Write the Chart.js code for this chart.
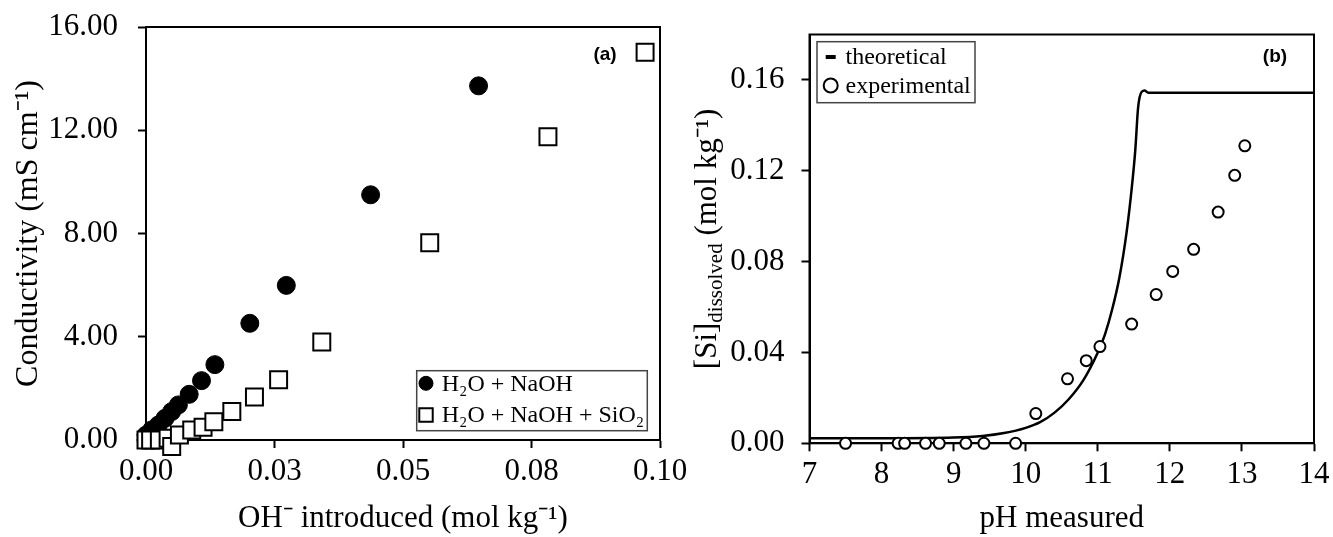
<!DOCTYPE html>
<html>
<head>
<meta charset="utf-8">
<script src="https://cdn.jsdelivr.net/npm/chart.js@4.4.1/dist/chart.umd.min.js"></script>
<style>
  html, body { margin: 0; padding: 0; background: #fff; }
  #wrap { position: relative; width: 1333px; height: 537px; }
  #wrap canvas { position: absolute; left: 0; top: 0; }
</style>
</head>
<body>
<div id="wrap">
  <canvas id="chartA" width="1333" height="537"></canvas>
  <canvas id="chartB" width="1333" height="537"></canvas>
</div>
<script>
"use strict";

// ---- panel (a): conductivity vs OH- introduced ----
const naohX = [0, 0, 0.0011, 0.0024, 0.0037, 0.005, 0.0063, 0.0084, 0.0108, 0.0134, 0.0202, 0.0273, 0.0437, 0.0647];
const naohY = [0, 0.19, 0.39, 0.58, 0.84, 1.10, 1.36, 1.77, 2.30, 2.92, 4.52, 5.99, 9.50, 13.72];
const silicaX = [0, 0.0009, 0.0026, 0.0043, 0.005, 0.0065, 0.0089, 0.0111, 0.0132, 0.0167, 0.0211, 0.0258, 0.0342, 0.0552, 0.0782, 0.0971];
const silicaY = [0, 0, 0, 0.07, -0.25, 0.19, 0.39, 0.49, 0.71, 1.10, 1.67, 2.33, 3.80, 7.64, 11.75, 15.02];
const xTicksA = [0, 0.025, 0.05, 0.075, 0.1];
const xTickLabelsA = ["0.00", "0.03", "0.05", "0.08", "0.10"];
const yTicksA = [0, 4, 8, 12, 16];
const yTickLabelsA = ["0.00", "4.00", "8.00", "12.00", "16.00"];

// ---- panel (b): dissolved Si vs pH ----
const theoPH = [7, 8, 9, 9.4, 9.7, 10.0, 10.2, 10.4, 10.6, 10.8, 11.0, 11.1, 11.2, 11.3, 11.4, 11.47, 11.52, 11.56, 11.61, 11.65, 11.7, 12, 13, 14];
const theoSi = [0.0022, 0.0022, 0.0025, 0.0032, 0.0045, 0.0068, 0.0093, 0.0135, 0.0195, 0.0278, 0.040, 0.048, 0.059, 0.073, 0.093, 0.112, 0.129, 0.148, 0.1548, 0.1553, 0.1544, 0.1544, 0.1544, 0.1544];
const expPH = [7.50, 8.23, 8.32, 8.61, 8.80, 9.17, 9.42, 9.86, 10.14, 10.58, 10.84, 11.03, 11.47, 11.81, 12.04, 12.33, 12.67, 12.90, 13.04];
const expSi = [0, 0, 0, 0, 0, 0, 0, 0, 0.0131, 0.0284, 0.0364, 0.0426, 0.0525, 0.0655, 0.0757, 0.0854, 0.1018, 0.118, 0.131];
const xTicksB = [7, 8, 9, 10, 11, 12, 13, 14];
const xTickLabelsB = ["7", "8", "9", "10", "11", "12", "13", "14"];
const yTicksB = [0, 0.04, 0.08, 0.12, 0.16];
const yTickLabelsB = ["0.00", "0.04", "0.08", "0.12", "0.16"];

const serif = "'Liberation Serif', 'Times New Roman', serif";
const sans = "'Liberation Sans', Arial, sans-serif";

function toPoints(xs, ys) {
  return xs.map((x, i) => ({ x: x, y: ys[i] }));
}

function makeAxis(ticks, labels, pad, extra) {
  return Object.assign({
    type: "linear",
    afterBuildTicks: (s) => { s.ticks = ticks.map((v) => ({ value: v })); },
    ticks: {
      color: "#000",
      font: { family: serif, size: 31 },
      padding: pad,
      maxRotation: 0,
      autoSkip: false,
      callback: (v, i) => labels[i],
    },
    grid: { drawOnChartArea: false, drawTicks: true, tickLength: 8, tickWidth: 2, color: "#000" },
    border: { display: true, color: "#000", width: 2 },
  }, extra);
}

// fixed axis box sizes, no extra label padding pushing the plot area
function fixSize(size) {
  return (s) => {
    if (s.isHorizontal()) s.height = size; else s.width = size;
    s.paddingTop = 0; s.paddingBottom = 0; s.paddingLeft = 0; s.paddingRight = 0;
  };
}

// frame, boxed legend, panel tag, optional rich y title
const decorPlugin = {
  id: "decor",
  beforeDatasetsDraw(chart) {
    const { ctx, chartArea: a } = chart;
    ctx.save();
    ctx.strokeStyle = "#000";
    ctx.lineWidth = 2;
    ctx.strokeRect(a.left, a.top, a.right - a.left, a.bottom - a.top);
    ctx.restore();
  },
  afterDraw(chart, args, opts) {
    const { ctx, chartArea: a } = chart;
    const lg = opts.legend;
    ctx.save();
    // legend box
    const bx = lg.anchor === "br" ? a.right - lg.dx - lg.w : a.left + lg.dx;
    const by = lg.anchor === "br" ? a.bottom - lg.dy - lg.h : a.top + lg.dy;
    ctx.strokeStyle = "#444";
    ctx.lineWidth = 1.5;
    ctx.strokeRect(bx, by, lg.w, lg.h);
    ctx.font = "24px " + serif;
    ctx.textBaseline = "middle";
    ctx.textAlign = "left";
    chart.data.datasets.forEach((ds, i) => {
      const cy = by + lg.firstRow + i * lg.rowGap;
      const mx = bx + lg.markerX;
      if (ds.showLine) {
        ctx.fillStyle = "#000";
        ctx.fillRect(mx - 5, cy - 2, 10, 4);
      } else {
        ctx.fillStyle = ds.backgroundColor;
        ctx.strokeStyle = ds.borderColor;
        ctx.lineWidth = ds.pointBorderWidth;
        Chart.helpers.drawPoint(ctx, {
          pointStyle: ds.pointStyle, radius: lg.radius[i], rotation: 0, borderWidth: ds.pointBorderWidth,
        }, mx, cy);
      }
      ctx.fillStyle = "#000";
      ctx.fillText(ds.label, bx + lg.textX, cy + 1);
    });
    // panel tag
    ctx.font = "bold 19px " + sans;
    ctx.textAlign = "center";
    ctx.fillText(opts.tag.text, a.right - opts.tag.dx, a.top + opts.tag.dy);
    // y title with subscript
    if (opts.yTitle) {
      const t = opts.yTitle;
      const big = "31px " + serif, small = "21px " + serif;
      ctx.font = big;
      const w1 = ctx.measureText(t.main).width;
      const w3 = ctx.measureText(t.tail).width;
      ctx.font = small;
      const w2 = ctx.measureText(t.sub).width;
      ctx.translate(a.left - t.dx, (a.top + a.bottom) / 2);
      ctx.rotate(-Math.PI / 2);
      ctx.textAlign = "left";
      ctx.textBaseline = "alphabetic";
      let x0 = -(w1 + w2 + w3) / 2;
      ctx.font = big;
      ctx.fillText(t.main, x0, 10);
      ctx.font = small;
      ctx.fillText(t.sub, x0 + w1, 16);
      ctx.font = big;
      ctx.fillText(t.tail, x0 + w1 + w2, 10);
    }
    ctx.restore();
  },
};

// ---- chart (a) ----
new Chart(document.getElementById("chartA").getContext("2d"), {
  type: "scatter",
  data: {
    datasets: [
      {
        label: "H₂O + NaOH",
        data: toPoints(naohX, naohY),
        pointStyle: "circle",
        pointRadius: 9,
        pointBorderWidth: 1,
        backgroundColor: "#000",
        borderColor: "#000",
        order: 1,
        clip: false,
      },
      {
        label: "H₂O + NaOH + SiO₂",
        data: toPoints(silicaX, silicaY),
        pointStyle: "rect",
        pointRadius: 12,
        pointBorderWidth: 2,
        backgroundColor: "#fff",
        borderColor: "#000",
        order: 0,
        clip: false,
      },
    ],
  },
  options: {
    responsive: false,
    animation: false,
    events: [],
    layout: { padding: { left: 0, right: 673, top: 27, bottom: 0 } },
    scales: {
      x: makeAxis(xTicksA, xTickLabelsA, 5, {
        min: 0, max: 0.1,
        afterFit: fixSize(97),
        title: { display: true, text: "OH⁻ introduced (mol kg⁻¹)", color: "#000", font: { family: serif, size: 31, lineHeight: 1.2 }, padding: { top: 0, bottom: 0 } },
      }),
      y: makeAxis(yTicksA, yTickLabelsA, 20, {
        min: 0, max: 16,
        afterFit: fixSize(146),
        title: { display: true, text: "Conductivity (mS cm⁻¹)", color: "#000", font: { family: serif, size: 32, lineHeight: 1.2 }, padding: { top: 9, bottom: 0 } },
      }),
    },
    plugins: {
      legend: { display: false },
      tooltip: { enabled: false },
      decor: {
        legend: { anchor: "br", dx: 12.7, dy: 9.3, w: 230.6, h: 60, firstRow: 12.6, rowGap: 31.7, markerX: 9.3, textX: 25, radius: [7, 9.5] },
        tag: { text: "(a)", dx: 55, dy: 28 },
      },
    },
  },
  plugins: [decorPlugin],
});

// ---- chart (b) ----
new Chart(document.getElementById("chartB").getContext("2d"), {
  type: "scatter",
  data: {
    datasets: [
      {
        label: "theoretical",
        data: toPoints(theoPH, theoSi),
        showLine: true,
        cubicInterpolationMode: "monotone",
        pointRadius: 0,
        pointBorderWidth: 0,
        borderWidth: 2.5,
        borderColor: "#000",
        backgroundColor: "#000",
        order: 1,
        clip: false,
      },
      {
        label: "experimental",
        data: toPoints(expPH, expSi),
        pointStyle: "circle",
        pointRadius: 5.5,
        pointBorderWidth: 2,
        backgroundColor: "#fff",
        borderColor: "#000",
        order: 0,
        clip: false,
      },
    ],
  },
  options: {
    responsive: false,
    animation: false,
    events: [],
    layout: { padding: { left: 670.5, right: 19, top: 34.5, bottom: 0 } },
    scales: {
      x: makeAxis(xTicksB, xTickLabelsB, 5, {
        min: 7, max: 14,
        afterFit: fixSize(93.7),
        title: { display: true, text: "pH measured", color: "#000", font: { family: serif, size: 31, lineHeight: 1.2 }, padding: { top: 0, bottom: 0 } },
      }),
      y: makeAxis(yTicksB, yTickLabelsB, 17, {
        min: 0, max: 0.18,
        afterFit: fixSize(139),
        title: { display: false },
      }),
    },
    plugins: {
      legend: { display: false },
      tooltip: { enabled: false },
      decor: {
        legend: { anchor: "tl", dx: 7.5, dy: 7.2, w: 158, h: 61, firstRow: 15.3, rowGap: 28.5, markerX: 13.7, textX: 28.5, radius: [7, 7] },
        tag: { text: "(b)", dx: 39, dy: 22 },
        yTitle: { main: "[Si]", sub: "dissolved", tail: " (mol kg⁻¹)", dx: 103.5 },
      },
    },
  },
  plugins: [decorPlugin],
});
</script>
</body>
</html>
